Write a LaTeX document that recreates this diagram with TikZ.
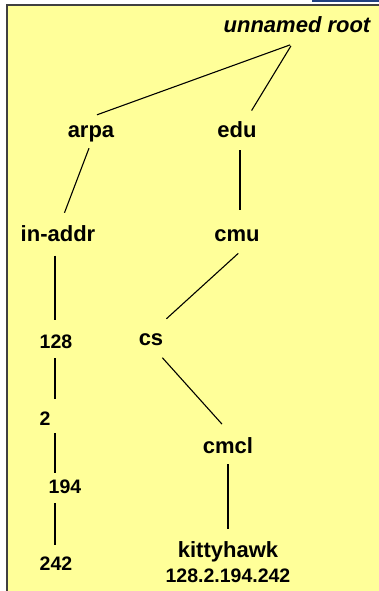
\documentclass[tikz,border=0pt]{standalone}
\usepackage{fontspec}
\setmainfont{Liberation Sans}
\usetikzlibrary{arrows,shapes}
\definecolor{paper}{RGB}{255,255,153}
\definecolor{frame}{RGB}{64,64,64}
\definecolor{bar}{RGB}{31,63,127}
\tikzstyle{hostname}=[font=\fontsize{22}{26}\selectfont\bfseries,text height=16pt,text depth=5pt,inner sep=6pt]
\tikzstyle{num}=[font=\fontsize{19.5}{23}\selectfont\bfseries,text height=14pt,text depth=4pt,inner sep=6pt]
\tikzstyle{edge}=[draw,line width=1.1pt,black]

\begin{document}
\begin{tikzpicture}[x=1pt,y=1pt]
  \useasboundingbox (0,0) rectangle (379,-591);
  % 底色和边框
  \fill[white] (0,0) rectangle (379,-591);
  \draw[line width=2pt,draw=frame,fill=paper] (7,-5) rectangle (382,-594);
  \fill[bar] (312,0) rectangle (382,-2.2);

  \node[hostname,font=\fontsize{22}{26}\selectfont\bfseries\itshape] (root) at (297,-27.5){unnamed root};
  \node[hostname] (arpa) at (91,-131.5){arpa};
  \node[hostname] (edu) at (237,-131.5){edu};
  \node[hostname,below of=edu,node distance=104.5pt] (cmu){cmu};
  \node[hostname] (inaddr) at (58,-236){in-addr};
  \node[hostname] (cs) at (151,-339.5){cs};
  \node[hostname] (cmcl) at (228,-447.5){cmcl};
  \node[hostname,below of=cmcl,node distance=104pt] (kitty){kittyhawk};
  \node[num,below of=kitty,node distance=25.5pt] (addr){128.2.194.242};
  % 左边的数字
  \node[num] (n128) at (56,-343){128};
  \node[num] (n2) at (45,-420){2};
  \node[num] (n194) at (65,-488){194};
  \node[num,below of=n128,node distance=222pt] (n242){242};
  \coordinate (spine) at (55,0);

  \draw[edge,shorten <=2pt] ([xshift=-5pt]root.south)--([xshift=6pt]arpa.north);
  \draw[edge,shorten <=2pt,shorten >=5pt] ([xshift=-5pt]root.south)--([xshift=12pt]edu.north);
  \draw[edge,shorten >=7pt] ([xshift=-2pt]arpa.south)--([xshift=4pt]inaddr.north);
  \draw[edge,shorten <=2pt,shorten >=9pt] ([xshift=3pt]edu.south)--([xshift=3pt]cmu.north);
  \draw[edge,shorten <=1pt,shorten >=6pt] ([xshift=2pt]cmu.south)--([xshift=11pt]cs.north);
  \draw[edge,shorten <=2pt,shorten >=9pt] ([xshift=10pt]cs.south)--(cmcl.north);
  \draw[edge,shorten >=6pt] (cmcl.south)--(kitty.north);
  \draw[edge,shorten <=3pt,shorten >=8pt] (spine |- inaddr.south)--(spine |- n128.north);
  \draw[edge,shorten >=6pt] (spine |- n128.south)--(spine |- n2.north);
  \draw[edge,shorten <=-2pt] (spine |- n2.south)--(spine |- n194.north);
  \draw[edge,shorten >=5pt] (spine |- n194.south)--(spine |- n242.north);
\end{tikzpicture}
\end{document}
